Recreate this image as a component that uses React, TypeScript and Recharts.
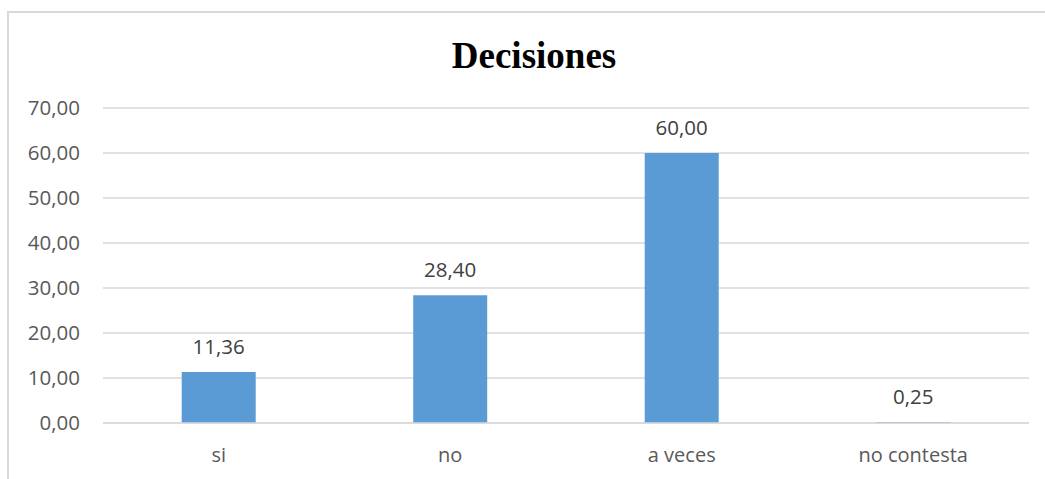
import { Bar, BarChart, CartesianGrid, LabelList, XAxis, YAxis } from "recharts";

const categories = ["si", "no", "a veces", "no contesta"];
const values = [11.36, 28.4, 60.0, 0.25];
const yTicks = [0, 10, 20, 30, 40, 50, 60, 70];

const data = categories.map((name, i) => ({ name, value: values[i] }));

const fmt = (v: number) => v.toFixed(2).replace(".", ",");

const FONT = "'Open Sans', 'Noto Sans', sans-serif";

export default function App() {
  return (
    <div style={{ position: "absolute", left: 0, top: 0, width: 1045, height: 479, overflow: "hidden", background: "#fff" }}>
      <div
        style={{
          position: "absolute",
          left: 7,
          top: 11,
          width: 1100,
          height: 520,
          borderLeft: "2px solid #d9d9d9",
          borderTop: "2px solid #d9d9d9",
        }}
      />
      <div style={{ position: "absolute", left: 0, top: 0 }}>
        <BarChart
          width={1045}
          height={479}
          data={data}
          margin={{ top: 108, right: 16, left: 43, bottom: 26 }}
          barCategoryGap="34%"
        >
          <text
            x={534}
            y={68}
            textAnchor="middle"
            style={{ fontFamily: "'Liberation Serif', 'Times New Roman', serif", fontWeight: 700, fontSize: 37, fill: "#000" }}
          >
            Decisiones
          </text>
          <CartesianGrid vertical={false} stroke="#d9d9d9" strokeWidth={1.5} />
          <XAxis
            dataKey="name"
            height={30}
            axisLine={{ stroke: "#d9d9d9", strokeWidth: 1.5 }}
            tickLine={false}
            tickSize={0}
            tickMargin={25}
            tick={{ fontSize: 20, fill: "#595959", fontFamily: FONT }}
          />
          <YAxis
            width={60}
            domain={[0, 70]}
            ticks={yTicks}
            tickFormatter={fmt}
            axisLine={false}
            tickLine={false}
            tickSize={0}
            tickMargin={23}
            tick={{ fontSize: 20.5, fill: "#595959", fontFamily: FONT }}
          />
          <Bar dataKey="value" fill="#5b9bd5" isAnimationActive={false}>
            <LabelList
              dataKey="value"
              position="top"
              offset={18}
              formatter={(v: number) => fmt(Number(v))}
              style={{ fontSize: 20.5, fill: "#404040", fontFamily: FONT }}
            />
          </Bar>
        </BarChart>
      </div>
    </div>
  );
}
